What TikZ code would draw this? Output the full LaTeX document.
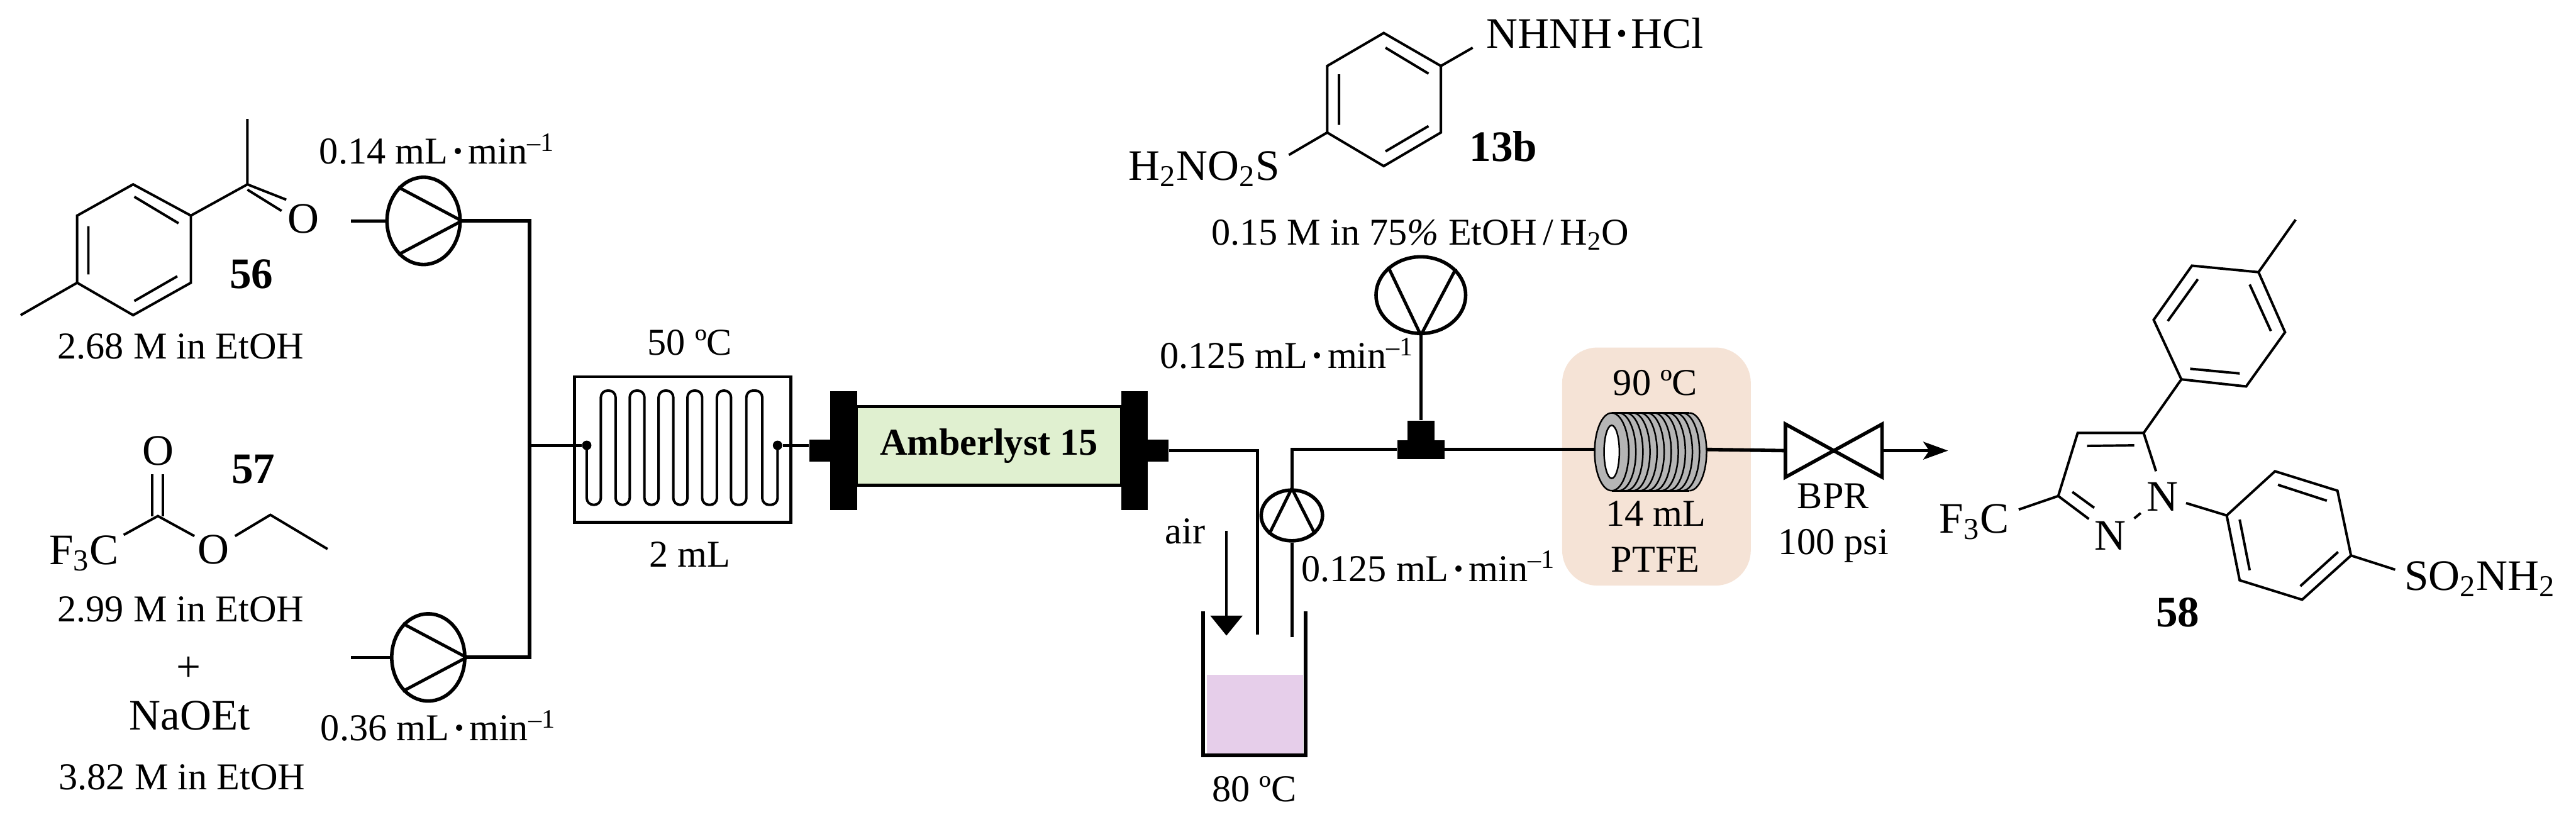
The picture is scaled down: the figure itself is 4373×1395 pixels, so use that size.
\documentclass[tikz,border=0pt]{standalone}
\usepackage{fontspec}
\setmainfont{Liberation Serif}
\usepackage{xcolor}
\usetikzlibrary{shapes.geometric, arrows.meta, positioning}
\definecolor{vertResine}{RGB}{224, 240, 208}
\definecolor{roseFour}{RGB}{245, 227, 214}
\definecolor{violetBain}{RGB}{230, 206, 234}
\definecolor{griBobine}{RGB}{181, 181, 181}
\newcommand{\debit}[1]{#1 mL\kern.1em\textbf{·}\kern.1em min\textsuperscript{–1}}
\begin{document}
\begin{tikzpicture}[x=0.01cm, y=-0.01cm,
  lbl/.style={font=\fontsize{18.3}{22}\selectfont, inner sep=0pt, text height=.43cm, text depth=0cm},
  chem/.style={font=\fontsize{21}{25}\selectfont, inner sep=0pt, text height=.5cm, text depth=0cm},
  num/.style={font=\fontsize{21}{25}\selectfont\bfseries, inner sep=0pt, text height=.5cm, text depth=0cm},
  pump/.style={ellipse, draw, line width=1.7pt, inner sep=0pt},
  blockN/.style={rectangle, fill=black, inner sep=0pt},
  tube/.style={line width=1.5pt},
  bond/.style={line width=1.2pt},
  arr/.style={-{Stealth[length=.42cm, width=.3cm, inset=.1cm]}, line width=1.5pt},
]
\useasboundingbox (0,0) rectangle (4373,1395);
% oven
\node[rectangle, rounded corners=.6cm, fill=roseFour, minimum width=3.2cm, minimum height=4.04cm, inner sep=0pt] (oven) at (2812,792) {};
% compound 56
\draw[bond] (35,535) -- (131,480) -- (131,366) -- (226,313) -- (324,366) -- (324,480) -- (226,535) -- (131,480);
\draw[bond] (150,384) -- (150,466) (228,334) -- (303,379) (228,511) -- (301,469);
\draw[bond] (324,366) -- (420,313) -- (420,202);
\draw[bond] (420,313) -- (486,339) (420,322) -- (478,358);
\node[chem] (oxoA) at (515,371) {O};
\node[num] (n56) at (427,464) {56};
\node[lbl] (concA) at (307,588) {2.68 M in EtOH};
% compound 57
\node[chem] (oxoB) at (268,765) {O};
\node[chem, anchor=base west] (cfA) at (83,958) {F\textsubscript{3}C};
\node[chem] (oxoC) at (362,932) {O};
\draw[bond] (258,805) -- (258,877) (277,805) -- (277,877);
\draw[bond] (210,908) -- (268,876) -- (330,910) (399,910) -- (459,874) -- (556,932);
\node[num] (n57) at (430,795) {57};
\node[lbl] (concB) at (307,1034) {2.99 M in EtOH};
\node[chem] (plusN) at (320,1132) {+};
\node[chem] (naoet) at (322,1214) {NaOEt};
\node[lbl] (concC) at (309,1319) {3.82 M in EtOH};
% pumps
\node[pump, minimum width=1.24cm, minimum height=1.48cm] (pumpA) at (719,375) {};
\node[pump, minimum width=1.24cm, minimum height=1.48cm] (pumpB) at (727,1116) {};
\node[pump, minimum width=1.04cm, minimum height=.86cm] (pumpC) at (2193,875) {};
\node[pump, minimum width=1.52cm, minimum height=1.3cm] (pumpD) at (2412,501) {};
\draw[tube] (pumpA.127) -- (pumpA.east) -- (pumpA.233);
\draw[tube] (pumpB.127) -- (pumpB.east) -- (pumpB.233);
\draw[tube] (pumpC.220) -- (pumpC.north) -- (pumpC.321);
\draw[tube] (pumpD.139) -- (pumpD.south) -- (pumpD.37);
\node[lbl] (rateA) at (742,257) {\debit{0.14}};
\node[lbl] (rateB) at (744,1236) {\debit{0.36}};
\node[lbl] (rateC) at (2185,604) {\debit{0.125}};
\node[lbl] (rateD) at (2425,965) {\debit{0.125}};
% mixer
\node[rectangle, draw, line width=1.4pt, minimum width=3.67cm, minimum height=2.47cm, inner sep=0pt] (mixer) at (1159,763) {};
\node[circle, fill=black, inner sep=0pt, minimum size=.16cm] (mixIn) at (996,756) {};
\node[circle, fill=black, inner sep=0pt, minimum size=.16cm] (mixOut) at (1320,756) {};
\draw[line width=1.2pt, rounded corners=.115cm] (mixIn.center) -- (996,857) -- (1020,857) -- (1020,663)
  -- (1045,663) -- (1045,857) -- (1069,857) -- (1069,663) -- (1094,663) -- (1094,857) -- (1118,857)
  -- (1118,663) -- (1143,663) -- (1143,857) -- (1167,857) -- (1167,663) -- (1192,663) -- (1192,857)
  -- (1217,857) -- (1217,663) -- (1241,663) -- (1241,857) -- (1267,857) -- (1267,663) -- (1294,663)
  -- (1294,857) -- (1320,857) -- (mixOut.center);
\node[lbl] (tempMix) at (1171,581) {50 ºC};
\node[lbl] (volMix) at (1171,941) {2 mL};
% column
\node[rectangle, draw, line width=1.5pt, fill=vertResine, minimum width=4.5cm, minimum height=1.33cm, inner sep=0pt,
  font=\fontsize{18.3}{22}\selectfont\bfseries] (column) at (1679,757) {Amberlyst 15};
\node[blockN, minimum width=.46cm, minimum height=2.02cm] (flangeL) at (1432,765) {};
\node[blockN, minimum width=.45cm, minimum height=2.02cm] (flangeR) at (1926,765) {};
\node[blockN, minimum width=.36cm, minimum height=.38cm] (stubL) at (1392,765) {};
\node[blockN, minimum width=.36cm, minimum height=.38cm] (stubR) at (1966,765) {};
% tee
\node[blockN, minimum width=.8cm, minimum height=.32cm] (teeLow) at (2412,763) {};
\node[blockN, minimum width=.46cm, minimum height=.34cm] (teeUp) at (2412,731) {};
% coil and valve points
\coordinate (coilL) at (2707,763);
\coordinate (coilR) at (2897,763);
\coordinate (valveL) at (3031,765);
\coordinate (valveR) at (3195,765);
\coordinate (prodEnd) at (3307,765);
% beaker
\fill[violetBain] (2049,1146) rectangle (2212,1279);
\draw[line width=1.8pt] (2042,1038) -- (2042,1282) -- (2216,1282) -- (2216,1038);
\coordinate (stemA) at (2135,1077);
\coordinate (stemB) at (2193,1082);
\coordinate (airTop) at (2082,901);
\coordinate (airTip) at (2082,1079);
\draw[line width=1.4pt, -{Triangle[length=.34cm, width=.54cm]}] (airTop) -- (airTip);
\node[lbl] (airN) at (2012,901) {air};
\node[lbl] (tempBath) at (2129,1339) {80 ºC};
% connecting lines
\draw[tube] (596,375) -- (pumpA.west);
\draw[tube] (596,1116) -- (pumpB.west);
\draw[tube, line width=1.8pt] (pumpA.east) -| (899,1116) -- (pumpB.east);
\draw[tube] (899,756) -- (mixIn);
\draw[tube] (mixOut) -- (stubL.west |- mixOut);
\draw[tube] (stubR.east) -| (stemA);
\draw[tube] (stemB) -- (pumpC.south);
\draw[tube] (pumpC.north) |- (teeLow.west);
\draw[tube] (pumpD.south) -- (teeUp.north);
\draw[tube] (teeLow.east) -- (coilL);
\draw[tube, line width=1.7pt] (coilR) -- (valveL);
% coil
\fill[griBobine] (2736,701) -- (2868,701) arc[start angle=-90, end angle=90, x radius=29, y radius=66] -- (2736,833) -- cycle;
\draw[line width=.8pt] (2736,701) -- (2868,701) (2736,833) -- (2868,833);
\foreach \xr in {2748,2760,...,2868}
  \draw[line width=.75pt] (\xr,701) arc[start angle=-90, end angle=90, x radius=29, y radius=66];
\draw[line width=.75pt, fill=griBobine] (2736,767) ellipse [x radius=29, y radius=66];
\draw[line width=.75pt, fill=white] (2736,767) ellipse [x radius=13, y radius=45];
\node[lbl] (tempOven) at (2810,650) {90 ºC};
\node[lbl] (volOven) at (2811,872) {14 mL};
\node[lbl] (ptfe) at (2810,950) {PTFE};
% valve
\draw[line width=1.7pt, line join=miter] (valveL |- 0,720) -- (valveL |- 0,810) -- (valveR |- 0,720) -- (valveR |- 0,810) -- cycle;
\draw[arr] (valveR) -- (prodEnd);
\node[lbl] (bpr) at (3112,842) {BPR};
\node[lbl] (psi) at (3112,920) {100 psi};
% compound 13b
\draw[bond] (2349,56) -- (2446,112) -- (2446,225) -- (2349,282) -- (2253,225) -- (2253,112) -- cycle;
\draw[bond] (2273,126) -- (2273,212) (2352,81) -- (2425,125) (2352,257) -- (2425,214);
\draw[bond] (2446,112) -- (2500,81) (2253,225) -- (2188,263);
\node[chem] (hydrazine) at (2708,57) {NHNH\kern.05em\textbf{·}\kern.05em HCl};
\node[chem, anchor=base east] (sulfA) at (2173,306) {H\textsubscript{2}NO\textsubscript{2}S};
\node[num] (n13b) at (2552,249) {13b};
\node[lbl] (concD) at (2411,394) {0.15 M in 75\textit{\%} EtOH\,/\,H\textsubscript{2}O};
% compound 58
\draw[bond] (3834,462) -- (3721,451) -- (3656,543) -- (3703,644) -- (3813,656) -- (3879,564) -- cycle;
\draw[bond] (3834,462) -- (3897,373);
\draw[bond] (3731,474) -- (3680,545) (3819,483) -- (3855,562) (3718,626) -- (3802,634);
\draw[bond] (3703,644) -- (3639,735) -- (3527,735) -- (3494,842) -- (3546,881);
\draw[bond] (3543,757) -- (3623,756) (3518,835) -- (3555,862);
\draw[bond] (3639,735) -- (3660,800) (3623,880) -- (3634,871) (3494,842) -- (3427,865);
\draw[bond] (3711,854) -- (3780,875);
\draw[bond] (3780,875) -- (3862,800) -- (3968,833) -- (3991,943) -- (3908,1018) -- (3802,985) -- cycle;
\draw[bond] (3867,823) -- (3950,850) (3802,882) -- (3819,968) (3969,937) -- (3905,995);
\draw[bond] (3991,943) -- (4066,967);
\node[chem] (nOne) at (3671,842) {N};
\node[chem] (nTwo) at (3582,909) {N};
\node[chem, anchor=base east] (cfB) at (3411,905) {F\textsubscript{3}C};
\node[chem, anchor=base west] (sulfB) at (4081,1002) {SO\textsubscript{2}NH\textsubscript{2}};
\node[num] (n58) at (3697,1039) {58};
\end{tikzpicture}
\end{document}
